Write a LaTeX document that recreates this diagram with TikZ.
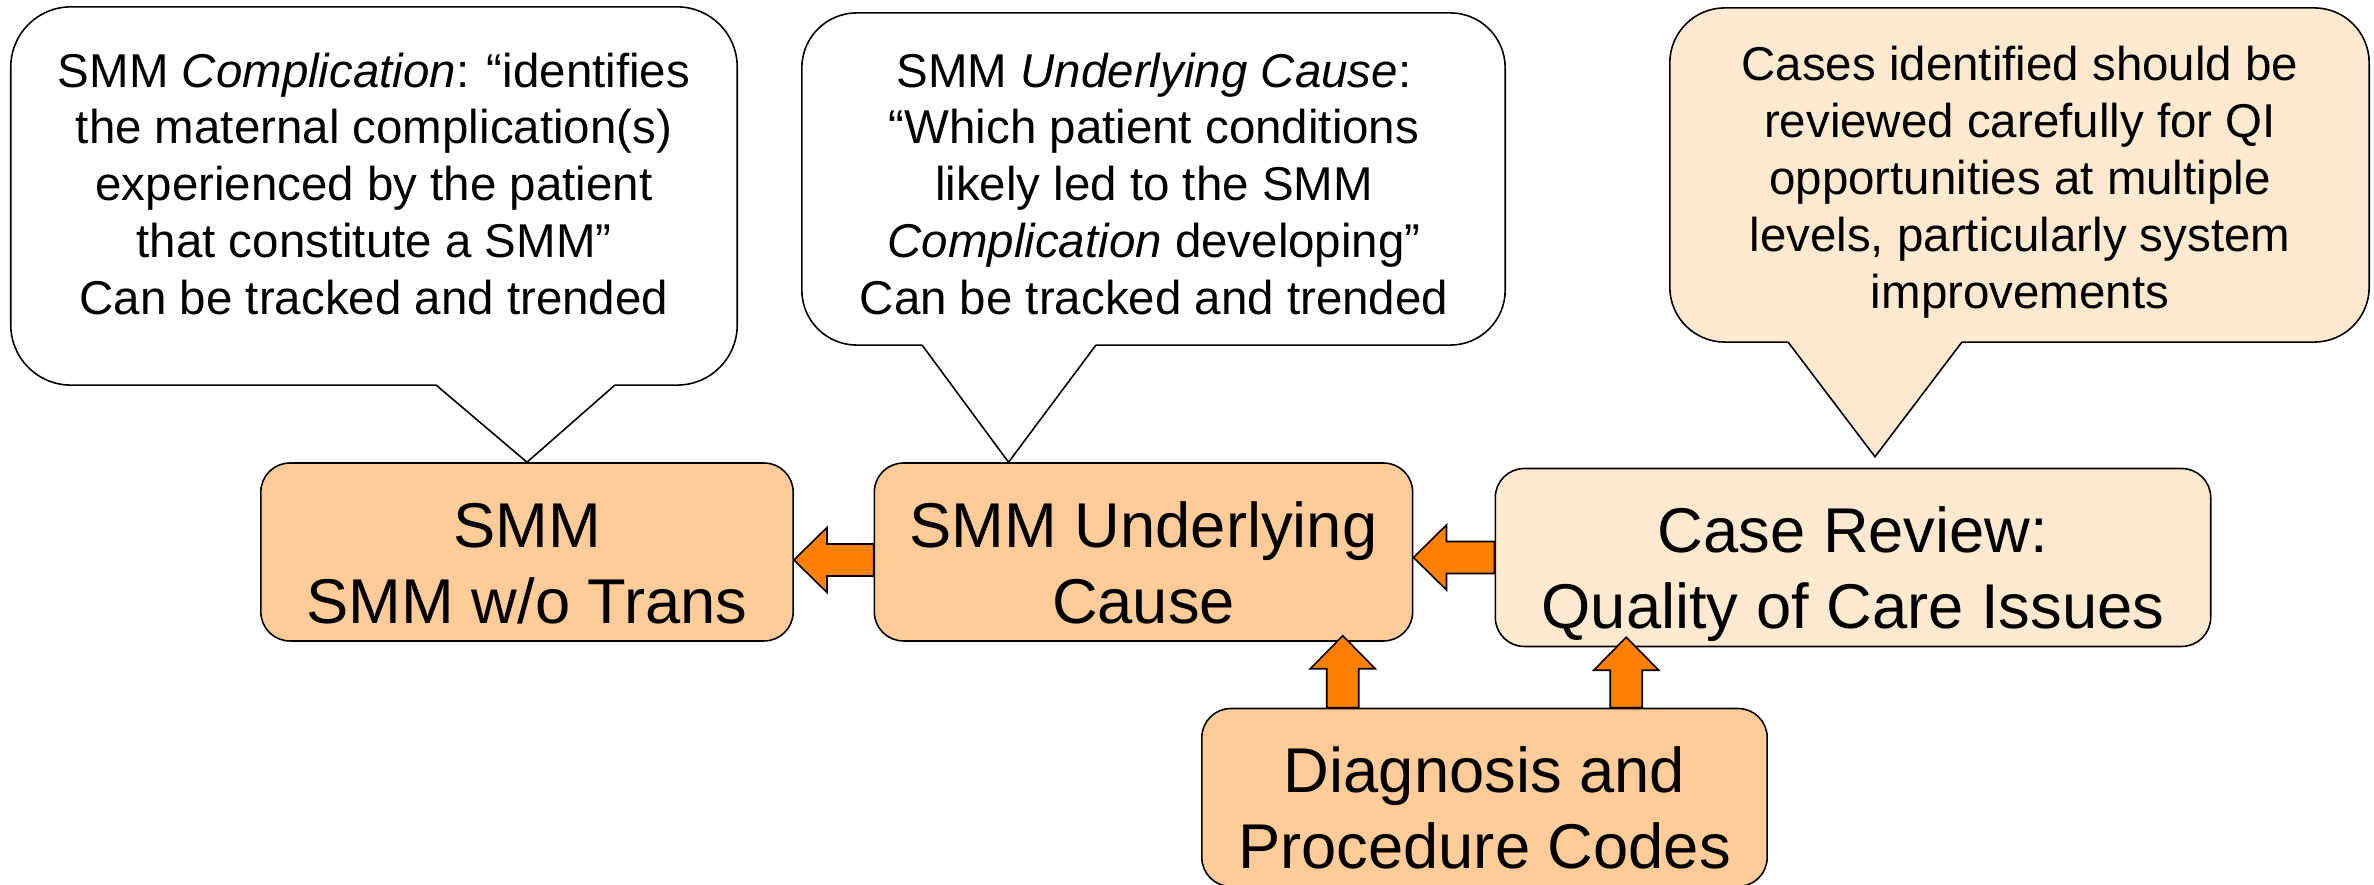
\documentclass[tikz,border=0pt]{standalone}
\usepackage{fontspec}
\setmainfont{Liberation Sans}
\usetikzlibrary{calc}
\definecolor{boxorange}{HTML}{FFCC99}
\definecolor{boxtan}{HTML}{FCE9D0}
\definecolor{arroworange}{HTML}{FF8000}
\newcommand{\boxlines}[2]{\rule{0pt}{24pt}#1\\#2\rule[-5pt]{0pt}{5pt}}

\begin{document}
\begin{tikzpicture}[x=0.01cm,y=0.01cm,
  codebox/.style={draw, line width=0.45pt, fill=boxorange, rounded corners=0.29cm,
    align=center, inner sep=0pt, minimum height=1.77cm, font=\fontsize{18}{21.6}\selectfont},
  bubble/.style={draw, line width=0.45pt, fill=white, inner sep=0pt},
  bubbletext/.style={align=center, inner sep=0pt, font=\fontsize{13.5}{16.2}\selectfont},
  fatarrow/.style={draw, line width=0.45pt, fill=arroworange, line join=miter,
    to path={let \p1=(\tikztostart), \p2=(\tikztotarget),
      \n1={atan2(\y2-\y1,\x2-\x1)} in
      ($(\p1)+({\n1+90}:0.16cm)$)
      -- ($(\p2)+({\n1+180}:0.33cm)+({\n1+90}:0.16cm)$)
      -- ($(\p2)+({\n1+180}:0.33cm)+({\n1+90}:0.325cm)$)
      -- (\p2)
      -- ($(\p2)+({\n1+180}:0.33cm)+({\n1-90}:0.325cm)$)
      -- ($(\p2)+({\n1+180}:0.33cm)+({\n1-90}:0.16cm)$)
      -- ($(\p1)+({\n1-90}:0.16cm)$) -- cycle}}]
\useasboundingbox (0,0) rectangle (2374,885);

% boxes
\node[codebox, minimum width=5.32cm] (smm) at (527,333) {\boxlines{SMM}{SMM w/o Trans}};
\node[codebox, minimum width=5.38cm] (cause) at (1143.5,333) {\boxlines{SMM Underlying}{Cause}};
\node[codebox, fill=boxtan, minimum width=7.15cm] (review) at (1853,327.5) {\boxlines{Case Review:}{Quality of Care Issues}};
\node[codebox, minimum width=5.65cm, minimum height=1.71cm] (diag) at (1484.5,87.5) {\boxlines{Diagnosis and}{Procedure Codes}};

% callouts
\node[bubble, rounded corners=0.6cm, minimum width=7.26cm, minimum height=3.78cm] (note1) at (374,689) {};
\fill[white] (436,506) -- (436,500) -- (smm.north) -- (615,500) -- (615,506) -- cycle;
\draw[line width=0.45pt] (436,500) -- (smm.north) -- (615,500);
\node[bubbletext] (text1) at (374,701) {SMM \textit{Complication}: “identifies\\the maternal complication(s)\\experienced by the patient\\that constitute a SMM”\\Can be tracked and trended};

\coordinate (tip2) at ($(cause.north west)!0.25!(cause.north east)$);
\node[bubble, rounded corners=0.55cm, minimum width=7.03cm, minimum height=3.32cm] (note2) at (1153.5,706) {};
\fill[white] (922,546) -- (922,540) -- (tip2) -- (1096,540) -- (1096,546) -- cycle;
\draw[line width=0.45pt] (922,540) -- (tip2) -- (1096,540);
\node[bubbletext] (text2) at (1154,701) {SMM \textit{Underlying Cause}:\\“Which patient conditions\\likely led to the SMM\\\textit{Complication} developing”\\Can be tracked and trended};

\coordinate (tip3) at ($(review.north)+(22,11)$);
\node[bubble, fill=boxtan, rounded corners=0.55cm, minimum width=6.99cm, minimum height=3.34cm] (note3) at (2019.5,710) {};
\fill[boxtan] (1788,549) -- (1788,543) -- (tip3) -- (1962,543) -- (1962,549) -- cycle;
\draw[line width=0.45pt] (1788,543) -- (tip3) -- (1962,543);
\node[bubbletext] (text3) at (2020,703) {Cases identified should be\\reviewed carefully for QI\\opportunities at multiple\\levels, particularly system\\improvements};

% arrows
\coordinate (up1) at ($(diag.north west)!0.25!(diag.north east)$);
\coordinate (up2) at ($(diag.north west)!0.75!(diag.north east)$);
\draw[fatarrow] ([yshift=-0.08cm]cause.west) to ([yshift=-0.08cm]smm.east);
\draw[fatarrow] (review.west) to (review.west -| cause.east);
\draw[fatarrow] (up1) to ([yshift=0.06cm]up1 |- cause.south);
\draw[fatarrow] (up2) to ([yshift=0.1cm]up2 |- review.south);
\end{tikzpicture}
\end{document}
